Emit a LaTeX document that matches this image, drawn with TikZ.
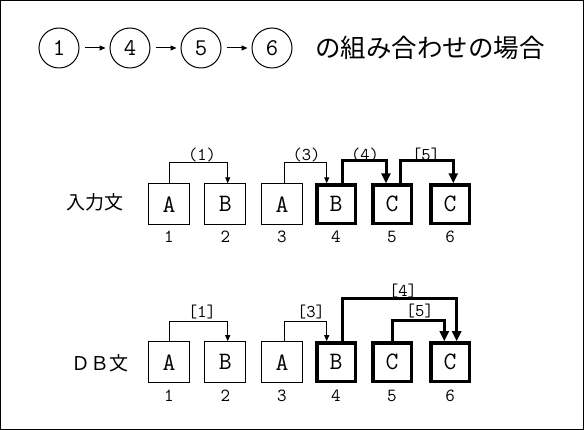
\documentclass[tikz,border=0pt]{standalone}
\usepackage{fontspec}
\newfontfamily\jpfont{Noto Sans CJK JP}
\usetikzlibrary{arrows.meta}

\tikzset{every picture/.style={line width=1pt}}
\tikzset{
	wbox/.style={draw, minimum size=41pt, inner sep=0pt, font=\ttfamily\fontsize{25}{25}\selectfont},
	bbox/.style={wbox, line width=3.5pt, minimum size=38.5pt},
	circ/.style={draw, circle, minimum size=40pt, inner sep=0pt, font=\ttfamily\fontsize{24}{24}\selectfont},
	idx/.style={inner sep=0pt, font=\ttfamily\fontsize{18.5}{18.5}\selectfont},
	tag/.style={inner sep=0pt, font=\ttfamily\fontsize{18}{18}\selectfont},
	jp/.style={inner sep=0pt, font=\jpfont\fontsize{19}{19}\selectfont},
	wlink/.style={-{Triangle[length=6pt,width=5pt]}},
	blink/.style={line width=3pt, -{Triangle[length=10pt,width=9pt]}},
}

\begin{document}
\begin{tikzpicture}[x=1pt,y=1pt,yscale=-1,xscale=1]
	% frame
	\draw (0.5,0.5) rectangle (583.5,429.5);

	% Text Node
	\node [circ] (c1) at (59,48) {1};
	\node [circ] (c4) at (130,48) {4};
	\node [circ] (c5) at (201,48) {5};
	\node [circ] (c6) at (272,48) {6};
	\node [inner sep=0pt, font=\jpfont\fontsize{25.5}{25.5}\selectfont] (title) at (430,48) {の組み合わせの場合};
	% Connection
	\draw [wlink, shorten <=5pt, shorten >=4pt] (c1) -- (c4);
	\draw [wlink, shorten <=5pt, shorten >=4pt] (c4) -- (c5);
	\draw [wlink, shorten <=5pt, shorten >=4pt] (c5) -- (c6);

	% Text Node
	\node [jp] (in) at (95,202) {入力文};
	\node [wbox] (a1) at (169,204.3) {A};
	\node [wbox] (a2) at (225.3,204.3) {B};
	\node [wbox] (a3) at (282,204.3) {A};
	\node [bbox] (a4) at (336,204.3) {B};
	\node [bbox] (a5) at (392,204.3) {C};
	\node [bbox] (a6) at (450,204.3) {C};
	\foreach \i/\x in {1/169,2/225.3,3/282,4/336,5/392,6/450}
		\node [idx] (na\i) at (\x,237) {\i};
	% Text Node
	\node [tag] (p1) at (202,155) {(1)};
	\node [tag] (p3) at (306.5,155) {(3)};
	\node [tag] (p4) at (365,155) {(4)};
	\node [tag] (p5) at (426,155) {[5]};
	% Connection
	\coordinate (k1a) at (169,162.3);
	\coordinate (k1b) at (227.7,162.3);
	\draw [wlink] (k1a |- a1.north) -- (k1a) -- (k1b) -- (k1b |- a2.north);
	\coordinate (k3a) at (284.3,162.3);
	\coordinate (k3b) at (326.7,162.3);
	\draw [wlink] (k3a |- a3.north) -- (k3a) -- (k3b) -- (k3b |- a4.north);
	\coordinate (k4a) at (342.3,161);
	\coordinate (k4b) at (386,161);
	\draw [blink] (k4a |- a4.north) -- (k4a) -- (k4b) -- (k4b |- a5.north);
	\coordinate (k5a) at (400,161);
	\coordinate (k5b) at (453.3,161);
	\draw [blink] (k5a |- a5.north) -- (k5a) -- (k5b) -- (k5b |- a6.north);

	% Text Node
	\node [jp] (db) at (100,363) {ＤＢ文};
	\node [wbox] (b1) at (169,362.2) {A};
	\node [wbox] (b2) at (225.3,362.2) {B};
	\node [wbox] (b3) at (282,362.2) {A};
	\node [bbox] (b4) at (336,362.2) {B};
	\node [bbox] (b5) at (392,362.2) {C};
	\node [bbox] (b6) at (450,362.2) {C};
	\foreach \i/\x in {1/169,2/225.3,3/282,4/336,5/392,6/450}
		\node [idx] (nb\i) at (\x,395.5) {\i};
	% Text Node
	\node [tag] (q1) at (202,311.7) {[1]};
	\node [tag] (q3) at (311,311.7) {[3]};
	\node [tag] (q4) at (403,291) {[4]};
	\node [tag] (q5) at (419.7,311) {[5]};
	% Connection
	\coordinate (m1a) at (169,321.7);
	\coordinate (m1b) at (227.7,321.7);
	\draw [wlink] (m1a |- b1.north) -- (m1a) -- (m1b) -- (m1b |- b2.north);
	\coordinate (m3a) at (284.3,321.7);
	\coordinate (m3b) at (326.7,321.7);
	\draw [wlink] (m3a |- b3.north) -- (m3a) -- (m3b) -- (m3b |- b4.north);
	\coordinate (m4a) at (342.3,299);
	\coordinate (m4b) at (456.7,299);
	\draw [blink] (m4a |- b4.north) -- (m4a) -- (m4b) -- (m4b |- b6.north);
	\coordinate (m5a) at (392.5,321);
	\coordinate (m5b) at (444.3,321);
	\draw [blink] (m5a |- b5.north) -- (m5a) -- (m5b) -- (m5b |- b6.north);
\end{tikzpicture}
\end{document}
